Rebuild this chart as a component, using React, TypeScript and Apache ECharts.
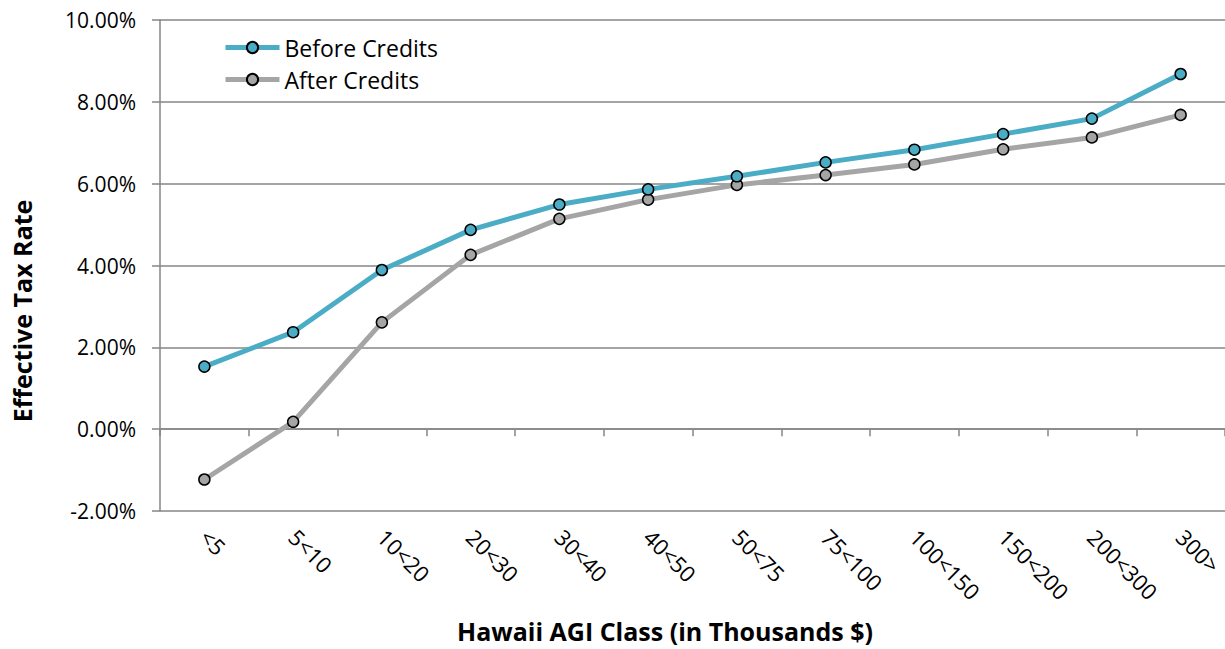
import React, { useEffect, useRef } from "react";
import * as echarts from "echarts";

const categories = ["<5", "5<10", "10<20", "20<30", "30<40", "40<50", "50<75", "75<100", "100<150", "150<200", "200<300", "300>"];
const beforeCredits = [1.53, 2.37, 3.89, 4.87, 5.49, 5.86, 6.18, 6.52, 6.83, 7.21, 7.59, 8.68];
const afterCredits = [-1.23, 0.18, 2.61, 4.26, 5.14, 5.61, 5.97, 6.21, 6.47, 6.84, 7.13, 7.68];
const seriesNames = ["Before Credits", "After Credits"];
const yTitle = "Effective Tax Rate";
const xTitle = "Hawaii AGI Class (in Thousands $)";

const FONT = "'Open Sans', 'Noto Sans', sans-serif";
const AXIS = "#868686";

export default function App() {
  const ref = useRef<HTMLDivElement>(null);
  useEffect(() => {
    if (!ref.current) return;
    const chart = echarts.init(ref.current, undefined, { renderer: "svg" });
    chart.setOption({
      animation: false,
      textStyle: { fontFamily: FONT },
      grid: { left: 160, right: 0, top: 20, bottom: 138, containLabel: false, outerBoundsMode: "none" },
      legend: {
        orient: "vertical",
        left: 218,
        top: 31,
        itemWidth: 54,
        itemHeight: 14,
        itemGap: 9,
        lineStyle: { width: 5 },
        textStyle: { fontFamily: FONT, fontSize: 23, color: "#000" },
        data: seriesNames,
      },
      xAxis: {
        type: "category",
        data: categories,
        boundaryGap: true,
        axisLine: { show: true, onZero: true, lineStyle: { color: AXIS, width: 1.5 } },
        axisTick: { show: true, length: 7, lineStyle: { color: AXIS, width: 1.5 } },
        axisLabel: { rotate: -45, margin: 22, fontSize: 22, color: "#000", fontFamily: FONT, interval: 0 },
        splitLine: { show: false },
      },
      yAxis: {
        type: "value",
        min: -2,
        max: 10,
        interval: 2,
        axisLine: { show: true, lineStyle: { color: AXIS, width: 1.5 } },
        axisTick: { show: true, length: 8, lineStyle: { color: AXIS, width: 1.5 } },
        axisLabel: { formatter: (v: number) => v.toFixed(2) + "%", fontSize: 21, color: "#000", margin: 24, fontFamily: FONT },
        splitLine: { show: true, lineStyle: { color: AXIS, width: 1.5 } },
      },
      graphic: [
        {
          type: "text",
          x: 22,
          y: 311,
          rotation: Math.PI / 2,
          style: { text: yTitle, fontFamily: FONT, fontSize: 25, fontWeight: "bold", fill: "#000", align: "center", verticalAlign: "middle" },
        },
        {
          type: "text",
          x: 665,
          y: 631,
          style: { text: xTitle, fontFamily: FONT, fontSize: 25, fontWeight: "bold", fill: "#000", align: "center", verticalAlign: "middle" },
        },
      ],
      series: [
        {
          name: seriesNames[0],
          type: "line",
          data: beforeCredits,
          symbol: "circle",
          symbolSize: 11,
          lineStyle: { color: "#4BACC6", width: 5 },
          itemStyle: { color: "#4BACC6", borderColor: "#000", borderWidth: 1.5 },
          z: 3,
        },
        {
          name: seriesNames[1],
          type: "line",
          data: afterCredits,
          symbol: "circle",
          symbolSize: 11,
          lineStyle: { color: "#A5A5A5", width: 5 },
          itemStyle: { color: "#A5A5A5", borderColor: "#000", borderWidth: 1.5 },
          z: 2,
        },
      ],
    });
    return () => chart.dispose();
  }, []);
  return <div ref={ref} style={{ width: 1225, height: 649, position: "absolute", left: 0, top: 0 }} />;
}
